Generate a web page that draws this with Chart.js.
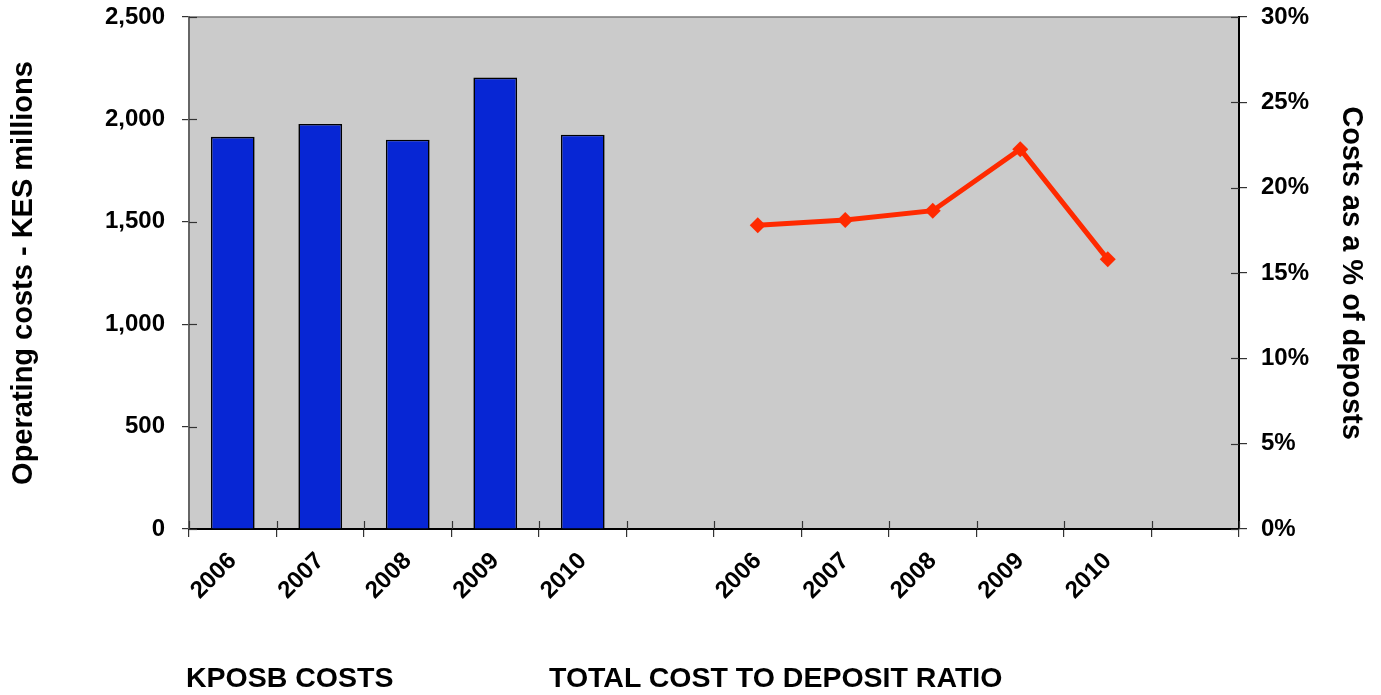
<!DOCTYPE html>
<html>
<head>
<meta charset="utf-8">
<script src="https://cdn.jsdelivr.net/npm/chart.js@4"></script>
<style>
  html, body { margin: 0; padding: 0; background: #fff; }
  #wrap { position: relative; width: 1381px; height: 695px; }
  canvas { position: absolute; left: 0; top: 0; }
  .foot { position: absolute; font-family: "Liberation Sans", Arial, sans-serif; font-weight: bold;
          font-size: 28.5px; line-height: 1; color: #000; white-space: nowrap; }
</style>
</head>
<body>
<div id="wrap">
  <canvas id="c" width="1381" height="695"></canvas>
  <div class="foot" style="left:186px; top:663px;">KPOSB COSTS</div>
  <div class="foot" style="left:549px; top:663px;">TOTAL COST TO DEPOSIT RATIO</div>
</div>
<script>
// ---- data ----
const categories = ['2006', '2007', '2008', '2009', '2010', '', '2006', '2007', '2008', '2009', '2010', ''];
const operatingCosts = [1915, 1978, 1901, 2204, 1925, null, null, null, null, null, null, null];
const costToDepositPct = [null, null, null, null, null, null, 17.8, 18.1, 18.65, 22.25, 15.8, null];
const leftTicks = [0, 500, 1000, 1500, 2000, 2500];
const rightTicks = [0, 5, 10, 15, 20, 25, 30];
const leftTitle = 'Operating costs - KES millions';
const rightTitle = 'Costs as a % of deposts';

const FONT = '"Liberation Sans", Arial, sans-serif';

const bgPlugin = {
  id: 'plotBg',
  beforeDraw(chart) {
    const { ctx, chartArea: a } = chart;
    ctx.save();
    ctx.fillStyle = '#cbcbcb';
    ctx.fillRect(a.left, a.top, a.right - a.left, a.bottom - a.top);
    ctx.strokeStyle = '#7a7a7a';
    ctx.lineWidth = 1.5;
    ctx.beginPath();
    ctx.moveTo(a.left, a.top);
    ctx.lineTo(a.right, a.top);
    ctx.stroke();
    ctx.restore();
  },
  beforeDatasetsDraw(chart) {
    // inner halves of the axis tick marks (ticks cross the axis lines)
    const { ctx, chartArea: a, scales } = chart;
    ctx.save();
    ctx.lineWidth = 1.2;
    ctx.strokeStyle = '#333';
    const yl = scales.y;
    yl.ticks.forEach((t, i) => {
      const p = Math.round(yl.getPixelForTick(i)) + 0.5;
      ctx.beginPath(); ctx.moveTo(a.left, p); ctx.lineTo(a.left + 8, p); ctx.stroke();
    });
    const yr = scales.y1;
    yr.ticks.forEach((t, i) => {
      const p = Math.round(yr.getPixelForTick(i)) + 0.5;
      ctx.beginPath(); ctx.moveTo(a.right, p); ctx.lineTo(a.right - 8, p); ctx.stroke();
    });
    const x = scales.x;
    const n = categories.length;
    const w = (a.right - a.left) / n;
    for (let i = 0; i <= n; i++) {
      const p = Math.round(x.getPixelForValue(0) - w / 2 + i * w) + 0.5;
      ctx.beginPath(); ctx.moveTo(p, a.bottom); ctx.lineTo(p, a.bottom - 8); ctx.stroke();
    }
    ctx.restore();
  }
};

function noPad(s) { s.paddingTop = 0; s.paddingBottom = 0; s.paddingLeft = 0; s.paddingRight = 0; }

new Chart(document.getElementById('c'), {
  data: {
    labels: categories,
    datasets: [
      {
        type: 'bar',
        label: 'KPOSB costs',
        data: operatingCosts,
        yAxisID: 'y',
        backgroundColor: '#0726d4',
        borderColor: '#000',
        borderWidth: 1.6,
        barPercentage: 0.5,
        categoryPercentage: 1.0,
        order: 2
      },
      {
        type: 'line',
        label: 'Total cost to deposit ratio',
        data: costToDepositPct,
        yAxisID: 'y1',
        borderColor: '#ff2a00',
        backgroundColor: '#ff2a00',
        borderWidth: 5,
        pointStyle: 'rectRot',
        pointRadius: 8,
        pointBorderWidth: 0,
        tension: 0,
        spanGaps: false,
        order: 1
      }
    ]
  },
  options: {
    responsive: false,
    animation: false,
    devicePixelRatio: 1,
    layout: { padding: { top: 17, left: 0, right: 0, bottom: 0 } },
    plugins: { legend: { display: false }, tooltip: { enabled: false } },
    scales: {
      x: {
        type: 'category',
        position: 'bottom',
        offset: true,
        grid: { offset: true, drawOnChartArea: false, tickLength: 8, color: '#333', lineWidth: 1.2 },
        border: { display: true, color: '#000', width: 2 },
        ticks: {
          autoSkip: false, maxRotation: 45, minRotation: 45, padding: 10,
          color: '#000', font: { family: FONT, size: 24, weight: 'bold' }
        },
        afterFit(s) { s.height = 166; noPad(s); }
      },
      y: {
        position: 'left',
        min: 0, max: 2500,
        afterBuildTicks(s) { s.ticks = leftTicks.map(v => ({ value: v })); },
        grid: { drawOnChartArea: false, tickLength: 7, color: '#333', lineWidth: 1.2 },
        border: { display: true, color: '#666', width: 2 },
        ticks: {
          padding: 17, color: '#000',
          font: { family: FONT, size: 24, weight: 'bold' },
          callback: v => v.toLocaleString('en-US')
        },
        title: {
          display: true, text: leftTitle, color: '#000',
          font: { family: FONT, size: 29, weight: 'bold' },
          padding: { top: 7, bottom: 0 }
        },
        afterFit(s) { s.width = 189; noPad(s); }
      },
      y1: {
        position: 'right',
        min: 0, max: 30,
        afterBuildTicks(s) { s.ticks = rightTicks.map(v => ({ value: v })); },
        grid: { drawOnChartArea: false, tickLength: 8, color: '#333', lineWidth: 1.2 },
        border: { display: true, color: '#000', width: 2 },
        ticks: {
          padding: 14, color: '#000',
          font: { family: FONT, size: 24, weight: 'bold' },
          callback: v => v + '%'
        },
        title: {
          display: true, text: rightTitle, color: '#000',
          font: { family: FONT, size: 29, weight: 'bold' },
          padding: { top: 13, bottom: 0 }
        },
        afterFit(s) { s.width = 142; noPad(s); }
      }
    }
  },
  plugins: [bgPlugin]
});
</script>
</body>
</html>
